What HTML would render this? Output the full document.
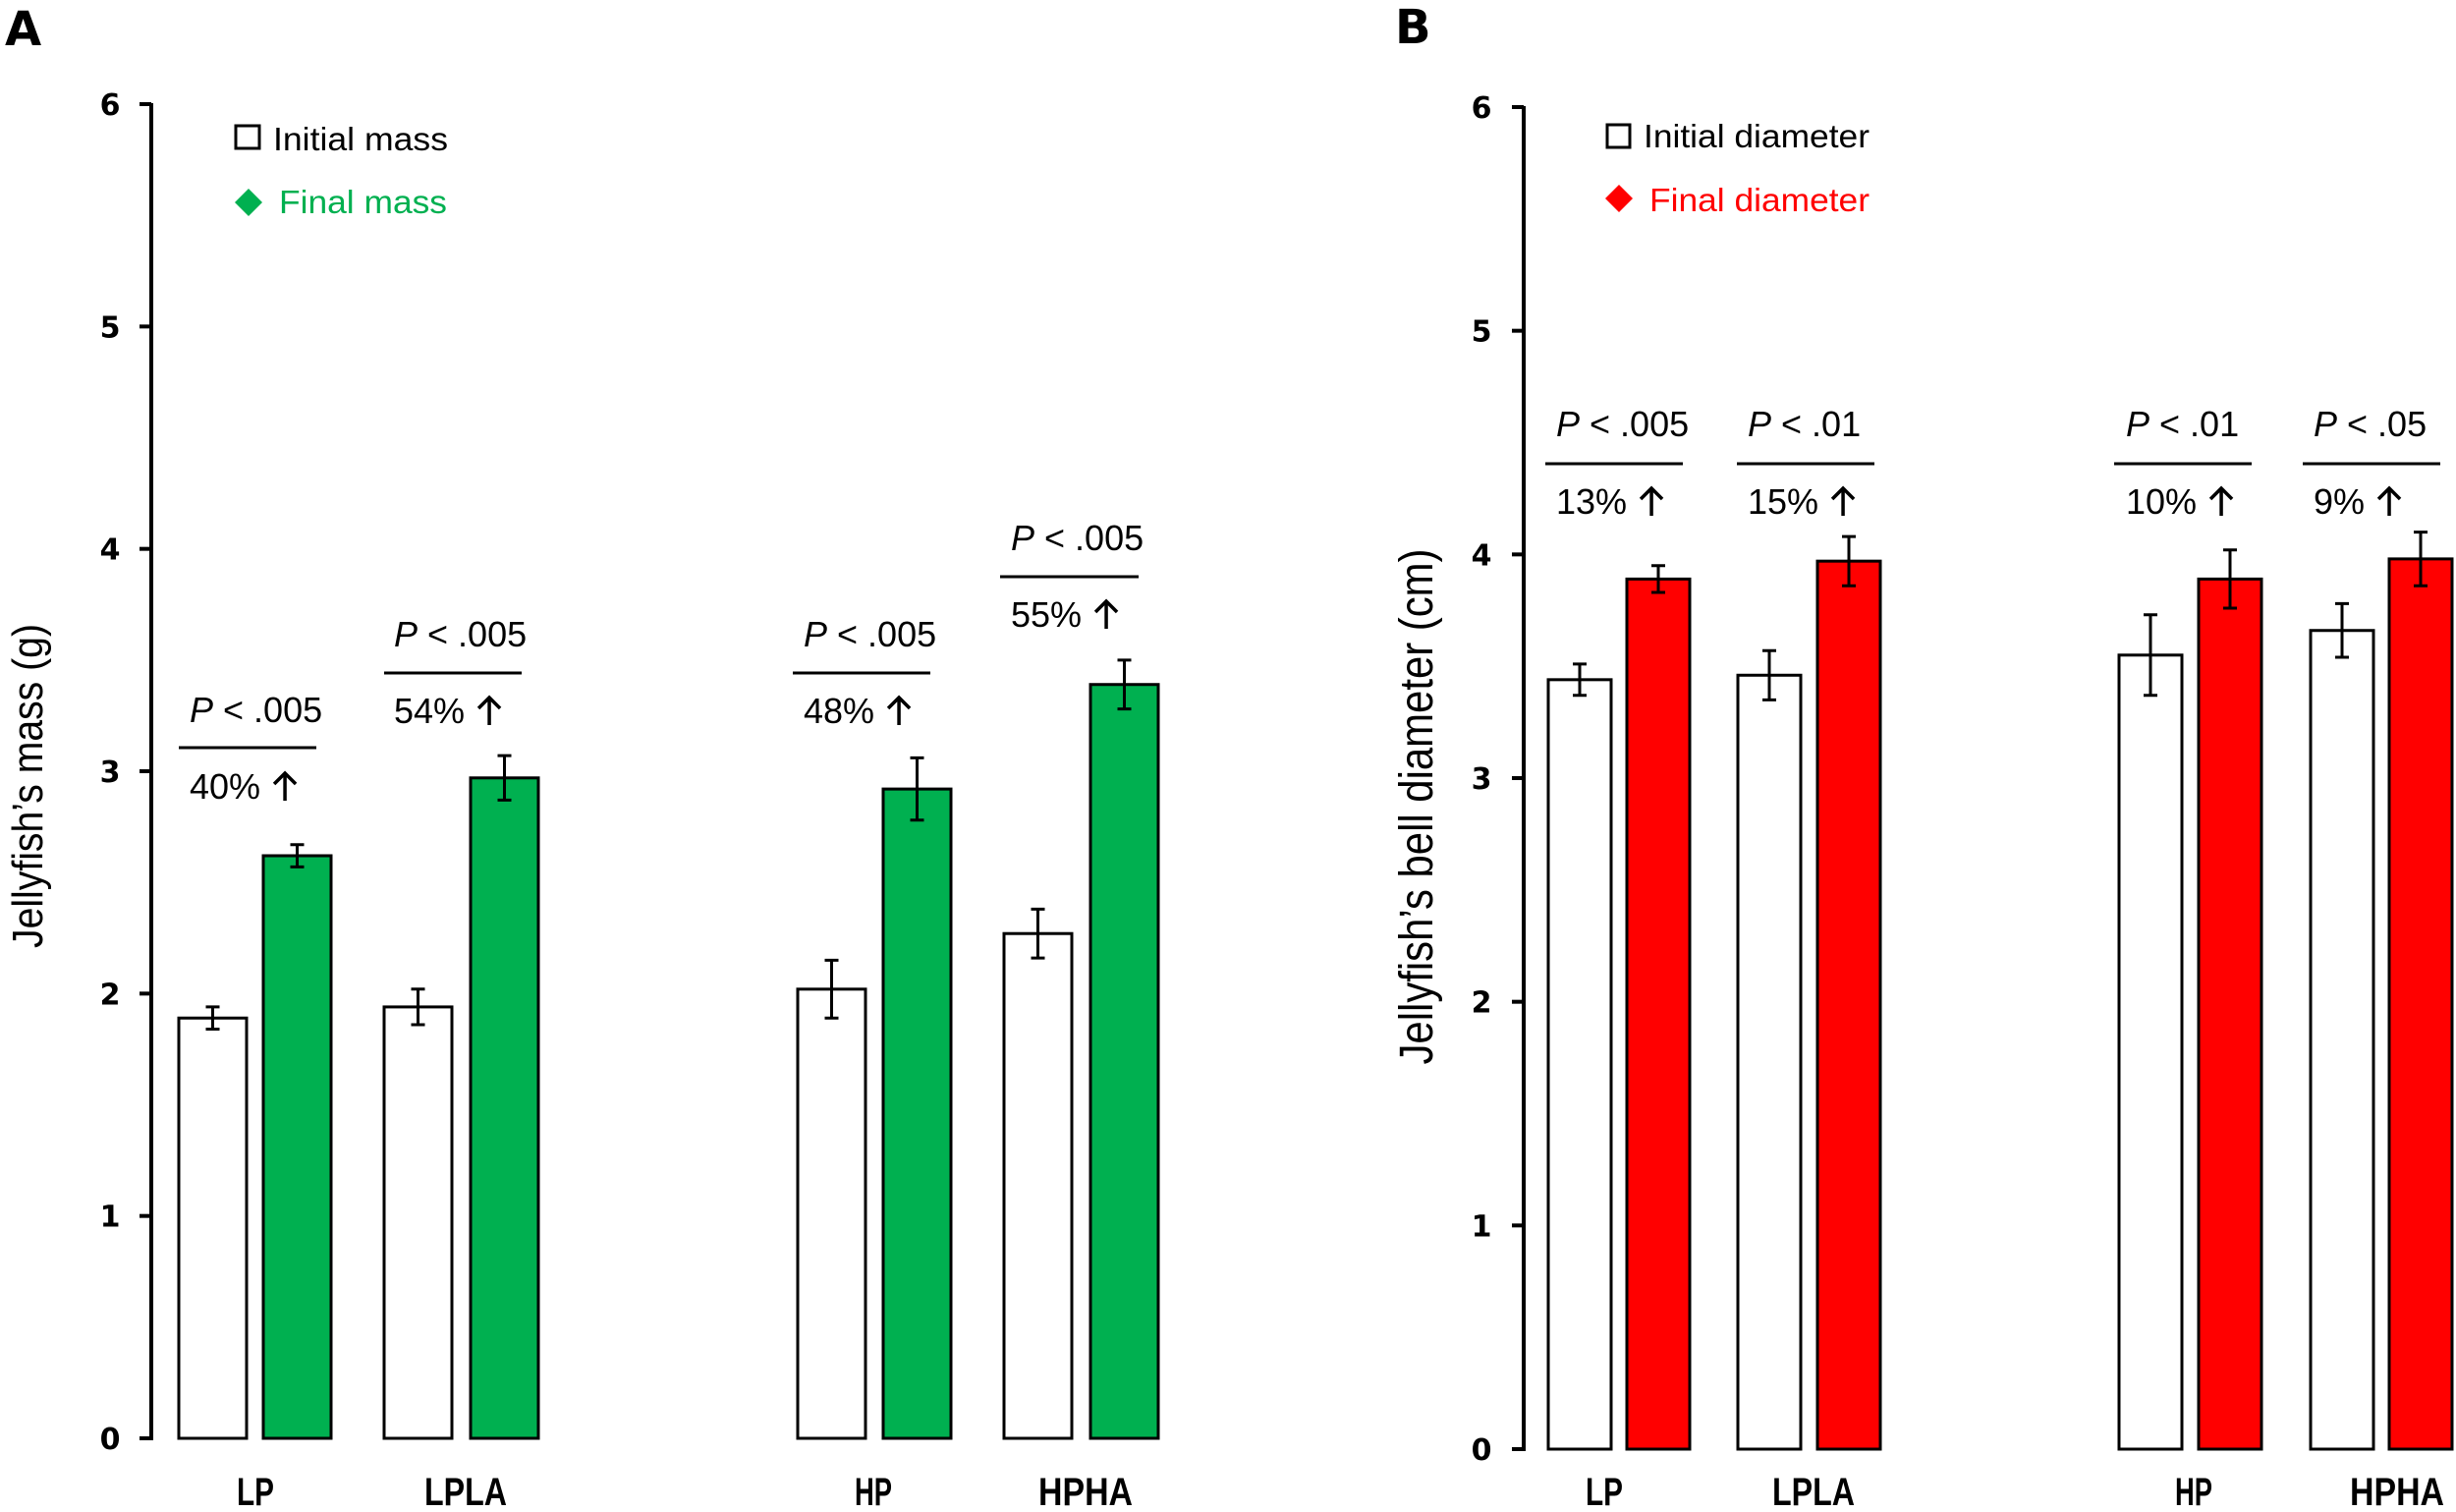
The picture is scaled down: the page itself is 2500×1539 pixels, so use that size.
<!DOCTYPE html>
<html><head><meta charset="utf-8"><style>html,body{margin:0;padding:0;background:#fff}svg{display:block}</style></head>
<body>
<svg id="chart" width="2500" height="1539" viewBox="0 0 2500 1539" xmlns="http://www.w3.org/2000/svg">
<text x="5" y="46" font-family="DejaVu Sans" font-weight="bold" font-size="48">A</text>
<text x="1420" y="44" font-family="DejaVu Sans" font-weight="bold" font-size="48">B</text>
<text transform="translate(43,800) rotate(-90)" text-anchor="middle" font-family="Liberation Sans" font-size="44" textLength="330" lengthAdjust="spacingAndGlyphs">Jellyfish’s mass (g)</text>
<text transform="translate(1458,821) rotate(-90)" text-anchor="middle" font-family="Liberation Sans" font-size="48" textLength="525" lengthAdjust="spacingAndGlyphs">Jellyfish’s bell diameter (cm)</text>
<rect x="240" y="128" width="24" height="23" fill="#fff" stroke="#000" stroke-width="3"/>
<text x="278" y="153" font-family="Liberation Sans" font-size="33" textLength="178" lengthAdjust="spacingAndGlyphs">Initial mass</text>
<polygon points="253,192 267,206 253,220 239,206" fill="#00b050"/>
<text x="284" y="217" font-family="Liberation Sans" font-size="33" fill="#00b050" textLength="171" lengthAdjust="spacingAndGlyphs">Final mass</text>
<rect x="1636" y="127" width="23" height="23" fill="#fff" stroke="#000" stroke-width="3"/>
<text x="1673" y="150" font-family="Liberation Sans" font-size="33" textLength="230" lengthAdjust="spacingAndGlyphs">Initial diameter</text>
<polygon points="1648,188 1662,202 1648,216 1634,202" fill="#ff0000"/>
<text x="1679" y="215" font-family="Liberation Sans" font-size="33" fill="#ff0000" textLength="224" lengthAdjust="spacingAndGlyphs">Final diameter</text>
</svg>
<script>
// Panel A data (mass, g)
const categoriesA = ["LP", "LPLA", "HP", "HPHA"];
const initialMass = [1.89, 1.94, 2.02, 2.27];
const initialMassErr = [0.05, 0.08, 0.13, 0.11];
const finalMass = [2.62, 2.97, 2.92, 3.39];
const finalMassErr = [0.05, 0.10, 0.14, 0.11];
const pLabelsA = ["< .005", "< .005", "< .005", "< .005"];
const pctLabelsA = ["40%", "54%", "48%", "55%"];
// Panel B data (bell diameter, cm)
const categoriesB = ["LP", "LPLA", "HP", "HPHA"];
const initialDiam = [3.44, 3.46, 3.55, 3.66];
const initialDiamErr = [0.07, 0.11, 0.18, 0.12];
const finalDiam = [3.89, 3.97, 3.89, 3.98];
const finalDiamErr = [0.06, 0.11, 0.13, 0.12];
const pLabelsB = ["< .005", "< .01", "< .01", "< .05"];
const pctLabelsB = ["13%", "15%", "10%", "9%"];
const yTicks = [0, 1, 2, 3, 4, 5, 6];

const svg = document.getElementById('chart');
const NS = 'http://www.w3.org/2000/svg';
function mk(tag, attrs, txt) {
  const e = document.createElementNS(NS, tag);
  for (const k in attrs) e.setAttribute(k, attrs[k]);
  if (txt !== undefined) e.textContent = txt;
  svg.appendChild(e);
  return e;
}

function panel(cfg) {
  const y = v => cfg.y0 - v * (cfg.y0 - cfg.y6) / 6;
  let ax = mk('line', {x1: cfg.ax, x2: cfg.ax, y1: cfg.y6 - 1, y2: cfg.y0 + 2, stroke: '#000', 'stroke-width': 4});
  
  
  yTicks.forEach(t => {
    const tk = mk('line', {x1: cfg.ax - 12, x2: cfg.ax, y1: y(t), y2: y(t), stroke: '#000', 'stroke-width': 4});
    
    
    const tl = mk('text', {x: cfg.tickX, y: y(t) + 11, 'text-anchor': 'middle', 'font-family': 'DejaVu Sans', 'font-weight': 'bold', 'font-size': 30}, String(t));
    
    
  });
  cfg.cats.forEach((c, i) => {
    const xi = cfg.initX[i], xf = cfg.finX[i], w = cfg.bw;
    const b1 = mk('rect', {x: xi, y: y(cfg.init[i]), width: w, height: y(0) - y(cfg.init[i]), fill: '#fff', stroke: '#000', 'stroke-width': 3});
    
    
    const b2 = mk('rect', {x: xf, y: y(cfg.fin[i]), width: w, height: y(0) - y(cfg.fin[i]), fill: cfg.color, stroke: '#000', 'stroke-width': 3});
    
    
    [[xi, cfg.init[i], cfg.initE[i]], [xf, cfg.fin[i], cfg.finE[i]]].forEach(([bx, v, e]) => {
      const cx = bx + w / 2;
      const g = document.createElementNS(NS, 'path');
      g.setAttribute('d', `M${cx},${y(v + e)}V${y(v - e)}M${cx - 7},${y(v + e)}H${cx + 7}M${cx - 7},${y(v - e)}H${cx + 7}`);
      g.setAttribute('stroke', '#000'); g.setAttribute('stroke-width', 3); g.setAttribute('fill', 'none');
      
      
      svg.appendChild(g);
    });
    const lab = mk('text', {x: cfg.labX[i], y: 1532, 'text-anchor': 'middle', 'font-family': 'Liberation Sans', 'font-weight': 'bold', 'font-size': 40, textLength: cfg.labW[i], lengthAdjust: 'spacingAndGlyphs'}, c);
    
    
    const a = cfg.ann[i];
    const pt = mk('text', {x: a.tx, y: a.py, 'font-family': 'Liberation Sans', 'font-size': 36});
    const ts = document.createElementNS(NS, 'tspan'); ts.setAttribute('font-style', 'italic'); ts.textContent = 'P'; pt.appendChild(ts);
    pt.appendChild(document.createTextNode(' ' + cfg.pLab[i]));
    
    
    const ln = mk('line', {x1: a.lx1, x2: a.lx2, y1: a.ly, y2: a.ly, stroke: '#000', 'stroke-width': 3});
    
    
    const pc = mk('text', {x: a.tx, y: a.cy, 'font-family': 'Liberation Sans', 'font-size': 36}, cfg.pct[i]);
    
    
    const ax2 = a.tx + pc.getComputedTextLength() + 25;
    const ar = document.createElementNS(NS, 'path');
    ar.setAttribute('d', `M${ax2},${a.cy + 2}V${a.cy - 26}M${ax2 - 11},${a.cy - 15}L${ax2},${a.cy - 26}L${ax2 + 11},${a.cy - 15}`);
    ar.setAttribute('stroke', '#000'); ar.setAttribute('stroke-width', 3.5); ar.setAttribute('fill', 'none');
    
    
    svg.appendChild(ar);
  });
}

panel({id: 'mass', ax: 154, y0: 1464, y6: 106, tickX: 112, color: '#00b050', bw: 69,
  cats: categoriesA, init: initialMass, initE: initialMassErr, fin: finalMass, finE: finalMassErr,
  pLab: pLabelsA, pct: pctLabelsA,
  initX: [182, 391, 812, 1022], finX: [268, 479, 899, 1110],
  labX: [260, 474, 889, 1105], labW: [38, 84, 38, 96],
  ann: [{tx: 193, py: 735, lx1: 182, lx2: 322, ly: 761, cy: 813},
        {tx: 401, py: 658, lx1: 391, lx2: 531, ly: 685, cy: 736},
        {tx: 818, py: 658, lx1: 807, lx2: 947, ly: 685, cy: 736},
        {tx: 1029, py: 560, lx1: 1018, lx2: 1159, ly: 587, cy: 638}]});

panel({id: 'diameter', ax: 1551, y0: 1475, y6: 109, tickX: 1508, color: '#ff0000', bw: 64,
  cats: categoriesB, init: initialDiam, initE: initialDiamErr, fin: finalDiam, finE: finalDiamErr,
  pLab: pLabelsB, pct: pctLabelsB,
  initX: [1576, 1769, 2157, 2352], finX: [1656, 1850, 2238, 2432],
  labX: [1633, 1846, 2233, 2440], labW: [38, 84, 38, 96],
  ann: [{tx: 1584, py: 444, lx1: 1573, lx2: 1713, ly: 472, cy: 523},
        {tx: 1779, py: 444, lx1: 1768, lx2: 1908, ly: 472, cy: 523},
        {tx: 2164, py: 444, lx1: 2152, lx2: 2292, ly: 472, cy: 523},
        {tx: 2355, py: 444, lx1: 2344, lx2: 2484, ly: 472, cy: 523}]});
</script>
</body></html>
